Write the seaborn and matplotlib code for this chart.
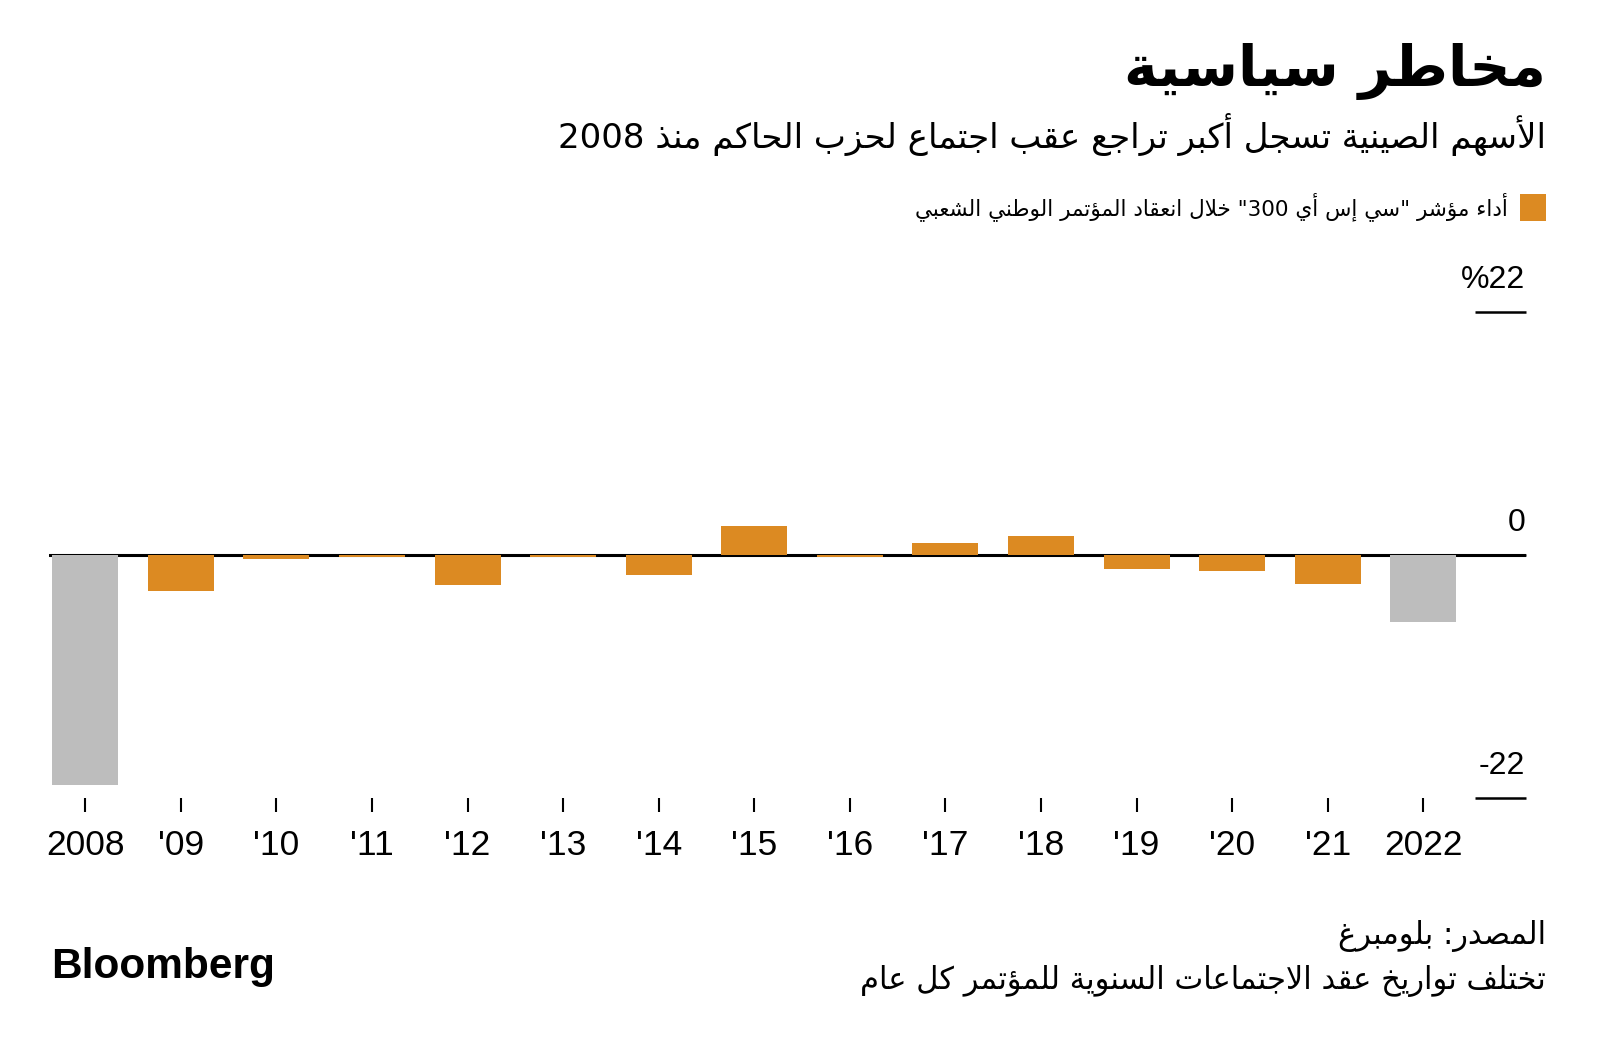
import re
import matplotlib
matplotlib.use("Agg")
import matplotlib.pyplot as plt
import seaborn as sns
import pandas as pd

# ---------------- data ----------------
years = ["2008", "'09", "'10", "'11", "'12", "'13", "'14", "'15", "'16",
         "'17", "'18", "'19", "'20", "'21", "2022"]
values = [-20.8, -3.3, -0.4, -0.2, -2.7, -0.2, -1.8, 2.6, -0.2,
          1.1, 1.75, -1.25, -1.45, -2.6, -6.05]
highlight = ["end", "mid", "mid", "mid", "mid", "mid", "mid", "mid", "mid",
             "mid", "mid", "mid", "mid", "mid", "end"]
y_ticks = [-22, 0, 22]
y_tick_labels = ["-22", "0", "%22"]

title = "مخاطر سياسية"
subtitle = "الأسهم الصينية تسجل أكبر تراجع عقب اجتماع لحزب الحاكم منذ 2008"
legend_label = 'أداء مؤشر "سي إس أي 300" خلال انعقاد المؤتمر الوطني الشعبي'
source = "المصدر: بلومبرغ"
note = "تختلف تواريخ عقد الاجتماعات السنوية للمؤتمر كل عام"

ORANGE = "#DC8A22"
GRAY = "#BDBDBD"

# ---------------- minimal Arabic shaping + RTL ordering ----------------
FORMS = {
    '\u0621': ('\uFE80', None, None, None),
    '\u0622': ('\uFE81', '\uFE82', None, None),
    '\u0623': ('\uFE83', '\uFE84', None, None),
    '\u0624': ('\uFE85', '\uFE86', None, None),
    '\u0625': ('\uFE87', '\uFE88', None, None),
    '\u0626': ('\uFE89', '\uFE8A', '\uFE8B', '\uFE8C'),
    '\u0627': ('\uFE8D', '\uFE8E', None, None),
    '\u0628': ('\uFE8F', '\uFE90', '\uFE91', '\uFE92'),
    '\u0629': ('\uFE93', '\uFE94', None, None),
    '\u062A': ('\uFE95', '\uFE96', '\uFE97', '\uFE98'),
    '\u062B': ('\uFE99', '\uFE9A', '\uFE9B', '\uFE9C'),
    '\u062C': ('\uFE9D', '\uFE9E', '\uFE9F', '\uFEA0'),
    '\u062D': ('\uFEA1', '\uFEA2', '\uFEA3', '\uFEA4'),
    '\u062E': ('\uFEA5', '\uFEA6', '\uFEA7', '\uFEA8'),
    '\u062F': ('\uFEA9', '\uFEAA', None, None),
    '\u0630': ('\uFEAB', '\uFEAC', None, None),
    '\u0631': ('\uFEAD', '\uFEAE', None, None),
    '\u0632': ('\uFEAF', '\uFEB0', None, None),
    '\u0633': ('\uFEB1', '\uFEB2', '\uFEB3', '\uFEB4'),
    '\u0634': ('\uFEB5', '\uFEB6', '\uFEB7', '\uFEB8'),
    '\u0635': ('\uFEB9', '\uFEBA', '\uFEBB', '\uFEBC'),
    '\u0636': ('\uFEBD', '\uFEBE', '\uFEBF', '\uFEC0'),
    '\u0637': ('\uFEC1', '\uFEC2', '\uFEC3', '\uFEC4'),
    '\u0638': ('\uFEC5', '\uFEC6', '\uFEC7', '\uFEC8'),
    '\u0639': ('\uFEC9', '\uFECA', '\uFECB', '\uFECC'),
    '\u063A': ('\uFECD', '\uFECE', '\uFECF', '\uFED0'),
    '\u0641': ('\uFED1', '\uFED2', '\uFED3', '\uFED4'),
    '\u0642': ('\uFED5', '\uFED6', '\uFED7', '\uFED8'),
    '\u0643': ('\uFED9', '\uFEDA', '\uFEDB', '\uFEDC'),
    '\u0644': ('\uFEDD', '\uFEDE', '\uFEDF', '\uFEE0'),
    '\u0645': ('\uFEE1', '\uFEE2', '\uFEE3', '\uFEE4'),
    '\u0646': ('\uFEE5', '\uFEE6', '\uFEE7', '\uFEE8'),
    '\u0647': ('\uFEE9', '\uFEEA', '\uFEEB', '\uFEEC'),
    '\u0648': ('\uFEED', '\uFEEE', None, None),
    '\u0649': ('\uFEEF', '\uFEF0', None, None),
    '\u064A': ('\uFEF1', '\uFEF2', '\uFEF3', '\uFEF4'),
}
LAMALEF = {'\u0622': ('\uFEF5', '\uFEF6'), '\u0623': ('\uFEF7', '\uFEF8'),
           '\u0625': ('\uFEF9', '\uFEFA'), '\u0627': ('\uFEFB', '\uFEFC')}


def shape(s):
    items = []
    i = 0
    while i < len(s):
        c = s[i]
        if c == '\u0644' and i + 1 < len(s) and s[i + 1] in LAMALEF:
            items.append(('LA', s[i + 1]))
            i += 2
        else:
            items.append(('C', c))
            i += 1

    def joins(it):
        return it[0] == 'LA' or (it[1] in FORMS and FORMS[it[1]][1] is not None)

    def dual(it):
        return it[0] == 'C' and it[1] in FORMS and FORMS[it[1]][2] is not None

    out = []
    for k, it in enumerate(items):
        prev = items[k - 1] if k > 0 else None
        nxt = items[k + 1] if k + 1 < len(items) else None
        jp = prev is not None and dual(prev) and joins(it)
        if it[0] == 'LA':
            iso, fin = LAMALEF[it[1]]
            out.append(fin if jp else iso)
            continue
        c = it[1]
        if c not in FORMS:
            out.append(c)
            continue
        f = FORMS[c]
        jn = dual(it) and nxt is not None and joins(nxt)
        if jp and jn:
            out.append(f[3])
        elif jp:
            out.append(f[1] if f[1] else f[0])
        elif jn:
            out.append(f[2])
        else:
            out.append(f[0])
    return ''.join(out)


def ar(s):
    tokens = re.findall(r'[0-9A-Za-z]+|.', shape(s))
    return ''.join(reversed(tokens))


# ---------------- figure ----------------
sns.set_theme(style="white")
plt.rcParams['font.family'] = ['DejaVu Sans']
plt.rcParams['text.color'] = 'black'
plt.rcParams['xtick.color'] = 'black'
plt.rcParams['ytick.color'] = 'black'

W, H = 1600, 1047
fig = plt.figure(figsize=(W / 100, H / 100), dpi=100)
fig.patch.set_facecolor("white")

ax_l, ax_r = 49 / W, 1525.5 / W
ax_b, ax_t = 1 - 798 / H, 1 - 312 / H
ax = fig.add_axes([ax_l, ax_b, ax_r - ax_l, ax_t - ax_b])

df = pd.DataFrame({"year": years, "value": values, "group": highlight})
sns.barplot(data=df, x="year", y="value", hue="group",
            palette={"end": GRAY, "mid": ORANGE}, dodge=False,
            width=0.69, saturation=1, legend=False, ax=ax, zorder=4,
            edgecolor="none", linewidth=0)

ax.set_xlim(-0.38, len(years) - 1 + 1.07)
ax.set_ylim(-22, 22)
for sp in ax.spines.values():
    sp.set_visible(False)
ax.set_xlabel("")
ax.set_ylabel("")
ax.grid(False)

ax.axhline(0, color="black", lw=2.2, zorder=3)

# x ticks
ax.tick_params(axis="x", direction="out", length=10, width=1.5, color="black",
               pad=12, labelsize=25.5, bottom=True, labelcolor="black")
for lab in ax.get_xticklabels():
    lab.set_fontfamily("Liberation Sans")

# y ticks: short inward lines on the right with labels above them
ax.set_yticks(y_ticks)
ax.yaxis.tick_right()
ax.tick_params(axis="y", direction="in", length=37, width=1.8, color="black",
               labelright=False, labelleft=False, left=False, right=True)
for v, lbl in zip(y_ticks, y_tick_labels):
    ax.annotate(lbl, xy=(1, v), xycoords=("axes fraction", "data"),
                xytext=(0, 12), textcoords="offset points",
                ha="right", va="bottom", fontsize=23, color="black",
                fontfamily="Liberation Sans")

# ---------------- texts ----------------
def fy(y):
    return 1 - y / H

fig.text(1546 / W, fy(72), ar(title), ha="right", va="center",
         fontsize=41, fontweight="bold", color="black")
fig.text(1546 / W, fy(135), ar(subtitle), ha="right", va="center",
         fontsize=24.5, color="black")

# legend
fig.patches.append(matplotlib.patches.Rectangle(
    (1520 / W, fy(221)), 26 / W, 27 / H, transform=fig.transFigure,
    facecolor=ORANGE, edgecolor="none"))
fig.text(1508 / W, fy(207), ar(legend_label), ha="right", va="center",
         fontsize=15.5, color="black")

fig.text(1546 / W, fy(936), ar(source), ha="right", va="center",
         fontsize=22, color="black")
fig.text(1546 / W, fy(981), ar(note), ha="right", va="center",
         fontsize=22, color="black")

fig.text(51 / W, fy(967), "Bloomberg", ha="left", va="center",
         fontsize=30.5, fontweight="bold", fontfamily="Liberation Sans",
         color="black")

fig.savefig("out.png", dpi=100, facecolor="white")
